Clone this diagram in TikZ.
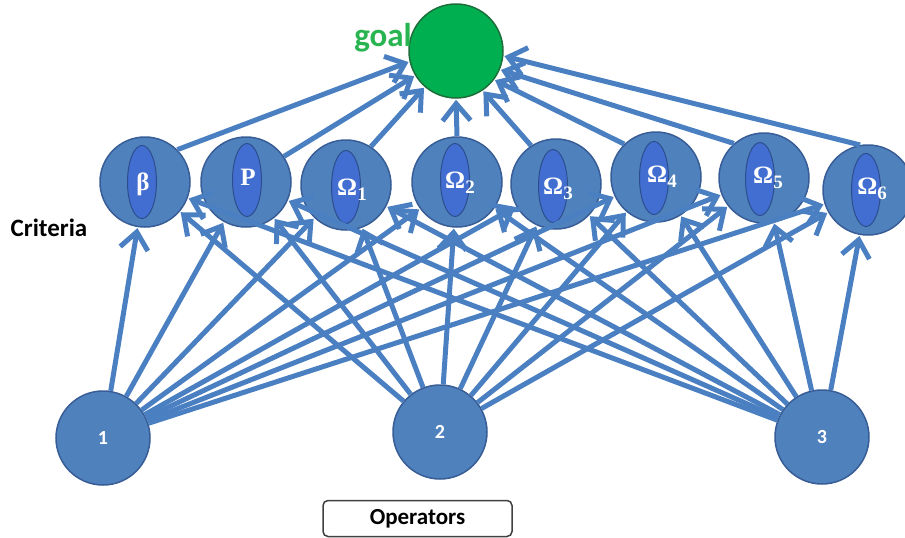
\documentclass[tikz,border=0pt]{standalone}
\usepackage{fontspec}
\setmainfont{Carlito}
\newfontfamily\grk{Liberation Serif}
\usetikzlibrary{arrows.meta,shapes.geometric}
\definecolor{cfill}{RGB}{79,129,189}
\definecolor{cborder}{RGB}{56,93,150}
\definecolor{efill}{RGB}{66,110,210}
\definecolor{eborder}{RGB}{45,78,140}
\definecolor{acol}{RGB}{74,127,193}
\definecolor{gfill}{RGB}{0,176,80}
\definecolor{gborder}{RGB}{30,110,60}
\definecolor{gtext}{RGB}{40,180,80}
\definecolor{boxborder}{RGB}{64,64,64}
\begin{document}
\begin{tikzpicture}[x=1pt,y=-1pt,
  crit/.style={circle, draw=cborder, fill=cfill, line width=1.5pt, minimum size=90pt, inner sep=0pt},
  inell/.style={ellipse, draw=eborder, fill=efill, line width=1pt, minimum width=29pt, minimum height=73pt, inner sep=0pt},
  glbl/.style={text=white, inner sep=0pt, font=\grk\bfseries\fontsize{25}{25}\selectfont},
  oper/.style={circle, draw=cborder, fill=cfill, line width=1.5pt, minimum size=94pt, inner sep=0pt, text=white, font=\bfseries\fontsize{20}{20}\selectfont},
  ar/.style={draw=acol, line width=5pt, -{Straight Barb[length=17pt,width=28pt]}, shorten >=1pt},
]
\useasboundingbox (0,0) rectangle (905,538);
\newcommand{\sbs}[1]{\raisebox{-0.45ex}{\fontsize{19}{19}\selectfont #1}}
% goal
\node[circle, draw=gborder, fill=gfill, line width=1.5pt, minimum size=94pt, inner sep=0pt] (goal) at (456,51) {};
\node[anchor=east, text=gtext, font=\bfseries\fontsize{33}{33}\selectfont, inner sep=0pt] (goaltxt) at (412,38) {goal};
% criteria
\node[crit] (b)  at (145,182) {};
\node[crit] (p)  at (246,182) {};
\node[crit] (o1) at (346,185) {};
\node[crit] (o2) at (457,182) {};
\node[crit] (o3) at (556,184) {};
\node[crit] (o4) at (656,177) {};
\node[crit] (o5) at (764,178) {};
\node[crit] (o6) at (868,190) {};
\node[inell] (eb)  at (142,182) {};
\node[inell] (ep)  at (247,180) {};
\node[inell] (eo1) at (346,187) {};
\node[inell] (eo2) at (455,180) {};
\node[inell] (eo3) at (553,186) {};
\node[inell] (eo4) at (654,178) {};
\node[inell] (eo5) at (760,179) {};
\node[inell] (eo6) at (866,190) {};
\node[glbl] (tb)  at (143,184) {β};
\node[glbl] (tp)  at (248,177) {P};
\node[glbl] (to1) at (352,190) {Ω\sbs{1}};
\node[glbl] (to2) at (460,183) {Ω\sbs{2}};
\node[glbl] (to3) at (558,189) {Ω\sbs{3}};
\node[glbl] (to4) at (662,177) {Ω\sbs{4}};
\node[glbl] (to5) at (768,178) {Ω\sbs{5}};
\node[glbl] (to6) at (872,189) {Ω\sbs{6}};
% operators
\node[oper] (op1) at (103,438) {1};
\node[oper] (op2) at (440,432) {2};
\node[oper] (op3) at (822,437) {3};
% labels
\node[font=\bfseries\fontsize{25}{25}\selectfont, inner sep=0pt] (crlbl) at (49,228) {Criteria};
\node[draw=boxborder, fill=white, line width=1.5pt, rounded corners=5pt, minimum width=189pt, minimum height=36pt, inner sep=0pt, font=\bfseries\fontsize{23}{23}\selectfont] (opbox) at (417.5,518.5) {Operators};
% arrows operators -> criteria
\foreach \s in {op1,op2,op3}{
  \foreach \t in {b,p,o1,o2,o3,o4,o5,o6}{
    \draw[ar] (\s) -- (\t);
  }
}
% arrows criteria -> goal
\foreach \t/\a/\g in {b/45/193, p/34/211, o1/57/229, o2/90/270, o3/123/304, o4/134/323, o5/131/337, o6/100/354}{
  \draw[ar] (\t.\a) -- (goal.\g);
}
\end{tikzpicture}
\end{document}
